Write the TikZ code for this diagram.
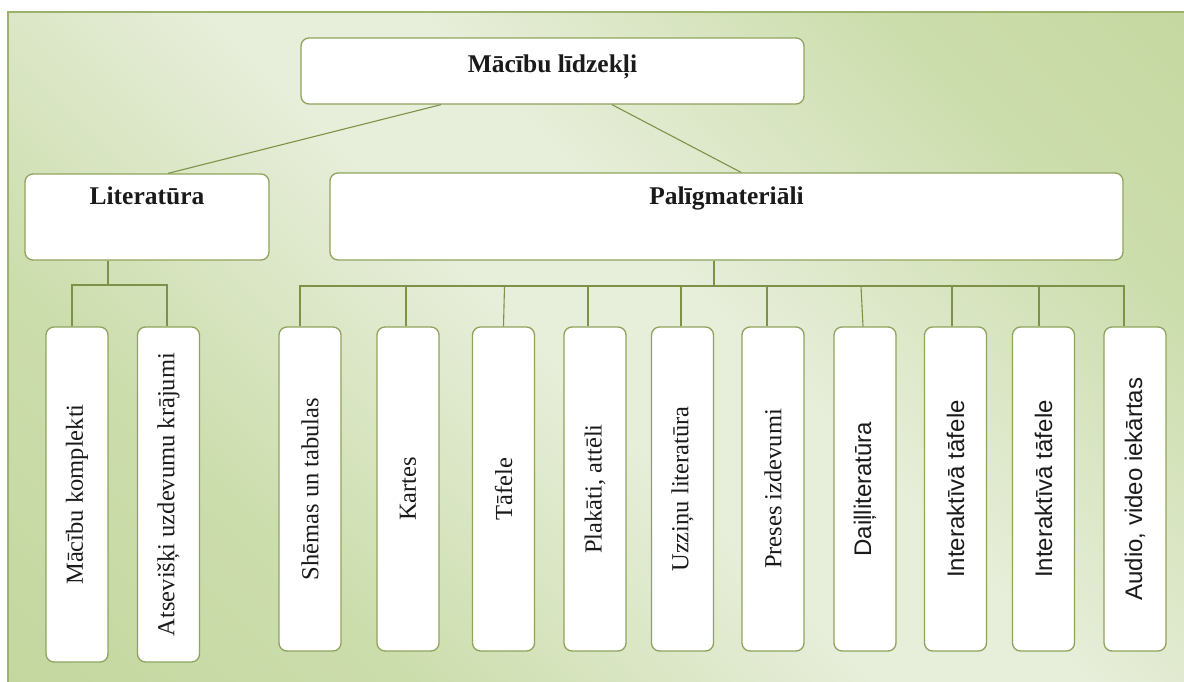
\documentclass[tikz,border=0pt]{standalone}
\usepackage{fontspec}
\setmainfont{Liberation Serif}
\newfontfamily\sansf{Liberation Sans}

\definecolor{bgdark}{HTML}{BDD293}
\definecolor{bgmid}{HTML}{CCDDAC}
\definecolor{bglight}{HTML}{E7EEDA}
\definecolor{framec}{HTML}{9CB26A}
\definecolor{boxc}{HTML}{8FA35C}
\definecolor{linkc}{HTML}{7D9248}
\definecolor{inkc}{HTML}{1A1A1A}

% soft diagonal band: green edges, pale middle
\pgfdeclareverticalshading{panelshade}{100bp}{%
  color(0bp)=(bgdark); color(30bp)=(bgmid); color(48bp)=(bglight);
  color(56bp)=(bglight); color(74bp)=(bgmid); color(100bp)=(bgdark)}

\tikzset{
  box/.style={draw=boxc, line width=1.3pt, fill=white, rounded corners=8pt,
    inner sep=0pt, text=inkc},
  vbox/.style={box, minimum width=62pt, minimum height=324pt,
    font=\fontsize{24.5}{28}\selectfont},
  lbox/.style={vbox, minimum height=335pt},
  sansbox/.style={vbox, font=\sansf\fontsize{24}{28}\selectfont},
  headtext/.style={anchor=base, inner sep=0pt, text=inkc,
    font=\bfseries\fontsize{25.5}{30}\selectfont},
  link/.style={draw=linkc, line width=1.1pt},
}

\begin{document}
\begin{tikzpicture}[x=1pt, y=-1pt]
\useasboundingbox (0,0) rectangle (1184,682);

% shaded panel with its frame
\begin{scope}
  \clip (0,0) rectangle (1184,682);
  \shade[shading=panelshade, shading angle=-45] (8,12) rectangle (1184,682);
  \draw[framec, line width=2pt] (8,700) -- (8,12) -- (1200,12);
\end{scope}

% top level
\node[box, minimum width=503pt, minimum height=66pt,
  label={[headtext, yshift=-35pt]north:M\=ac\=ibu l\=idzek\c{l}i}]
  (top) at (552.5,71) {};

% second level
\node[box, minimum width=244pt, minimum height=86pt,
  label={[headtext, yshift=-31pt]north:Literat\=ura}]
  (lit) at (147,217) {};
\node[box, minimum width=793pt, minimum height=87pt,
  label={[headtext, yshift=-32pt]north:Pal\=igmateri\=ali}]
  (pal) at (726.5,216.5) {};

% leaves under Literatura
\node[lbox] (l1) at (77,494.5)   {\rotatebox{90}{Mācību komplekti}};
\node[lbox] (l2) at (168.5,494.5) {\rotatebox{90}{Atsevišķi uzdevumu krājumi}};

% leaves under Paligmateriali
\node[vbox]    (p1)  at (310,489)    {\rotatebox{90}{Shēmas un tabulas}};
\node[vbox]    (p2)  at (408,489)    {\rotatebox{90}{Kartes}};
\node[vbox]    (p3)  at (503.5,489)  {\rotatebox{90}{Tāfele}};
\node[vbox]    (p4)  at (595,489)    {\rotatebox{90}{Plakāti, attēli}};
\node[vbox]    (p5)  at (682.5,489)  {\rotatebox{90}{Uzziņu literatūra}};
\node[vbox]    (p6)  at (773,489)    {\rotatebox{90}{Preses izdevumi}};
\node[sansbox] (p7)  at (865,489)    {\rotatebox{90}{Daiļliteratūra}};
\node[sansbox] (p8)  at (955.5,489)  {\rotatebox{90}{Interaktīvā tāfele}};
\node[sansbox] (p9)  at (1043.5,489) {\rotatebox{90}{Interaktīvā tāfele}};
\node[sansbox] (p10) at (1135,489)   {\rotatebox{90}{Audio, video iekārtas}};

% bus rails
\coordinate (litbus) at (0,285);
\coordinate (palbus) at (0,286);

% top level links
\draw[link] ([xshift=-111.5pt]top.south) -- ([xshift=21pt]lit.north);
\draw[link] ([xshift=59.5pt]top.south) -- ([xshift=14.5pt]pal.north);

% Literatura branch
\draw[link] ([xshift=-39pt]lit.south) -- ([xshift=-39pt]lit.south |- litbus);
\draw[link] ([xshift=-5pt]l1.north) |- ([xshift=-1.5pt]l2.north |- litbus)
  -- ([xshift=-1.5pt]l2.north);

% Paligmateriali branch
\draw[link] ([xshift=-12.5pt]pal.south) -- ([xshift=-12.5pt]pal.south |- palbus);
\draw[link] ([xshift=-10pt]p1.north) |- ([xshift=-11pt]p10.north |- palbus)
  -- ([xshift=-11pt]p10.north);
\draw[link] ([xshift=-2pt]p2.north) -- ([xshift=-2pt]p2.north |- palbus);
\draw[link] (p3.north) -- ([xshift=1pt]p3.north |- palbus);
\draw[link] ([xshift=-7pt]p4.north) -- ([xshift=-7pt]p4.north |- palbus);
\draw[link] ([xshift=-1.5pt]p5.north) -- ([xshift=-1.5pt]p5.north |- palbus);
\draw[link] ([xshift=-6pt]p6.north) -- ([xshift=-6pt]p6.north |- palbus);
\draw[link] ([xshift=-2pt]p7.north) -- ([xshift=-4pt]p7.north |- palbus);
\draw[link] ([xshift=-3.5pt]p8.north) -- ([xshift=-3.5pt]p8.north |- palbus);
\draw[link] ([xshift=-4.5pt]p9.north) -- ([xshift=-4.5pt]p9.north |- palbus);
\end{tikzpicture}
\end{document}
